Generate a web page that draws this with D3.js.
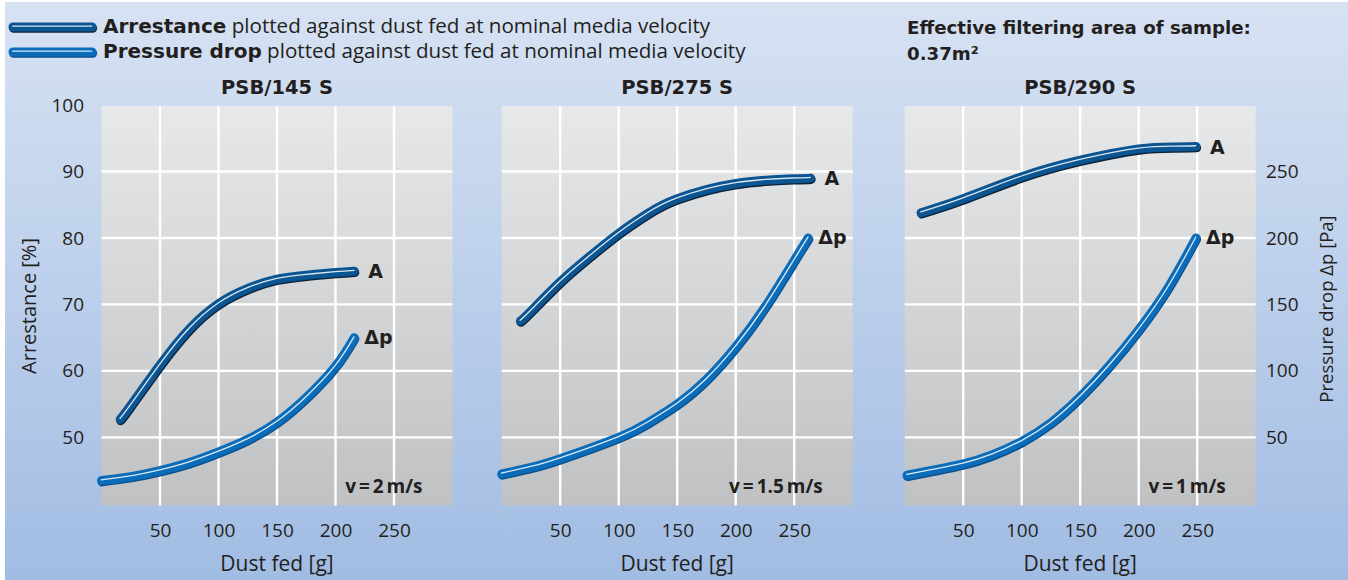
<!DOCTYPE html>
<html><head><meta charset="utf-8">
<script src="https://cdn.jsdelivr.net/npm/d3@7"></script>
<style>html,body{margin:0;padding:0;background:#fff;}svg{display:block;}text{font-family:"Open Sans",sans-serif;fill:#231f20;}.b{font-family:"DejaVu Sans",sans-serif;font-weight:bold;}</style>
</head><body><svg id="c" width="1348" height="580"></svg>
<script>
// ---- data ----
const panelTitles = ["PSB/145 S", "PSB/275 S", "PSB/290 S"];
const velocities = ["v = 2 m/s", "v = 1.5 m/s", "v = 1 m/s"];
const dustTicks = [50, 100, 150, 200, 250];
const arrestTicks = [50, 60, 70, 80, 90, 100];
const pressureTicks = [50, 100, 150, 200, 250];

// Arrestance [%] vs dust fed [g]
const arrDust1 = [16, 25, 50, 75, 100, 125, 150, 175, 200, 216];
const arrVal1  = [52.7, 54.8, 60.9, 66.3, 70.1, 72.4, 73.8, 74.4, 74.8, 75.0];
const arrDust2 = [16, 25, 50, 75, 100, 125, 150, 200, 250, 264];
const arrVal2  = [67.5, 69.0, 73.4, 77.2, 80.7, 83.7, 85.9, 88.2, 88.9, 89.0];
const arrDust3 = [14, 50, 100, 150, 200, 230, 249];
const arrVal3  = [83.8, 85.9, 89.2, 91.7, 93.4, 93.7, 93.75];

// Pressure drop [Pa] vs dust fed [g]
const dpDust1 = [0, 25, 50, 75, 100, 125, 150, 175, 200, 216];
const dpVal1  = [17.5, 20.5, 25, 31, 39, 48.5, 61.5, 80, 103.5, 125];
const dpDust2 = [0, 25, 50, 100, 125, 150, 175, 200, 225, 250, 262];
const dpVal2  = [22.5, 27.5, 34, 50, 61, 75, 93.5, 118, 148, 183, 200];
const dpDust3 = [2, 25, 50, 75, 100, 125, 150, 175, 200, 225, 249];
const dpVal3  = [21.5, 25.5, 30, 37, 47, 61, 80.5, 104, 131, 162.5, 200];

const arrDust = [arrDust1, arrDust2, arrDust3], arrVal = [arrVal1, arrVal2, arrVal3];
const dpDust = [dpDust1, dpDust2, dpDust3], dpVal = [dpVal1, dpVal2, dpVal3];

// ---- layout ----
const W = 1348, H = 580;
const panelX = [101.5, 501.7, 904.7], panelW = 351;
const plotTop = 106, plotBottom = 505.5;
const svg = d3.select("#c");
const defs = svg.append("defs");
const bg = defs.append("linearGradient").attr("id","bg").attr("x1",0).attr("y1",0).attr("x2",0).attr("y2",1);
bg.append("stop").attr("offset","0%").attr("stop-color","#d7e2f3");
bg.append("stop").attr("offset","100%").attr("stop-color","#a1bce3");
const pg = defs.append("linearGradient").attr("id","pg").attr("x1",0).attr("y1",0).attr("x2",0).attr("y2",1);
pg.append("stop").attr("offset","0%").attr("stop-color","#e7e8e9");
pg.append("stop").attr("offset","100%").attr("stop-color","#c0c1c3");

svg.append("rect").attr("x",5).attr("y",2).attr("width",W-5).attr("height",H-2).attr("fill","url(#bg)");

const y = d3.scaleLinear().domain([39.75, 100]).range([plotBottom, 105]);
const yP = d3.scaleLinear().domain([-1.25, 300]).range([plotBottom, 105]);

function tube(g, pts, kind){
  const main = kind === "A" ? "#0b5592" : "#0b6dba";
  const shadow = kind === "A" ? "#0c2238" : "#0a4f8c";
  g.append("path").attr("d", pts).attr("fill","none").attr("stroke",shadow).attr("stroke-width",9)
    .attr("stroke-linecap","round").attr("stroke-linejoin","round").attr("transform","translate(0.6,1.3)");
  g.append("path").attr("d", pts).attr("fill","none").attr("stroke",main).attr("stroke-width",9)
    .attr("stroke-linecap","round").attr("stroke-linejoin","round");
  g.append("path").attr("d", pts).attr("fill","none").attr("stroke","#ffffff").attr("stroke-opacity",0.85).attr("stroke-width",1.3)
    .attr("stroke-linecap","round").attr("transform","translate(-0.3,-0.8)");
}

for (let i = 0; i < 3; i++) {
  const x = d3.scaleLinear().domain([0, 300]).range([panelX[i], panelX[i] + panelW]);
  const g = svg.append("g");
  g.append("rect").attr("x", panelX[i]).attr("y", plotTop).attr("width", panelW).attr("height", plotBottom - plotTop).attr("fill","url(#pg)");
  g.selectAll(".vg").data(dustTicks).enter().append("line")
    .attr("x1", d => x(d)).attr("x2", d => x(d)).attr("y1", plotTop).attr("y2", plotBottom)
    .attr("stroke","#fff").attr("stroke-width",2.4);
  g.selectAll(".hg").data(arrestTicks.filter(d => d < 100)).enter().append("line")
    .attr("x1", panelX[i]).attr("x2", panelX[i] + panelW).attr("y1", d => y(d)).attr("y2", d => y(d))
    .attr("stroke","#fff").attr("stroke-width",2.4);
  const xa = g.append("g").attr("transform", `translate(0,${plotBottom})`)
    .call(d3.axisBottom(x).tickValues(dustTicks).tickSize(0).tickPadding(18));
  xa.select(".domain").remove();
  xa.selectAll("text").style("font-size","19px").style("font-family","Open Sans").attr("fill","#231f20");
  g.append("text").attr("x", panelX[i] + panelW / 2).attr("y", 571).attr("text-anchor","middle")
    .style("font-size","21px").text("Dust fed [g]");
  g.append("text").attr("class","b").attr("x", panelX[i] + panelW / 2).attr("y", 94).attr("text-anchor","middle")
    .style("font-size","19.5px").text(panelTitles[i]);
  g.append("text").attr("x", panelX[i] + panelW - 30).attr("y", 493).attr("text-anchor","end")
    .style("font-size","19px").style("font-weight","700").style("word-spacing","-2px").text(velocities[i]);

  const lineA = d3.line().x(d => x(d[0])).y(d => y(d[1])).curve(d3.curveNatural);
  const lineP = d3.line().x(d => x(d[0])).y(d => yP(d[1])).curve(d3.curveNatural);
  const aPts = arrDust[i].map((d, k) => [d, arrVal[i][k]]);
  const pPts = dpDust[i].map((d, k) => [d, dpVal[i][k]]);
  tube(g, lineP(pPts), "P");
  tube(g, lineA(aPts), "A");
  const aEnd = aPts[aPts.length - 1], pEnd = pPts[pPts.length - 1];
  g.append("text").attr("class","b").attr("x", x(aEnd[0]) + 14).attr("y", y(aEnd[1]) + 7)
    .style("font-size","19px").text("A");
  g.append("text").attr("class","b").attr("x", x(pEnd[0]) + 10).attr("y", yP(pEnd[1]) + 6)
    .style("font-size","19px").text("\u0394p");
}

// left axis
const ya = svg.append("g").attr("transform", `translate(84,0)`)
  .call(d3.axisLeft(y).tickValues(arrestTicks).tickSize(0).tickPadding(0));
ya.select(".domain").remove();
ya.selectAll("text").style("font-size","19px").style("font-family","Open Sans").attr("fill","#231f20");
svg.append("text").attr("transform","translate(36,306) rotate(-90)").attr("text-anchor","middle")
  .style("font-size","20px").text("Arrestance [%]");
// right axis
const yr = svg.append("g").attr("transform", `translate(1266,0)`)
  .call(d3.axisRight(yP).tickValues(pressureTicks).tickSize(0).tickPadding(0));
yr.select(".domain").remove();
yr.selectAll("text").style("font-size","19px").style("font-family","Open Sans").attr("fill","#231f20");
svg.append("text").attr("transform","translate(1333,309) rotate(-90)").attr("text-anchor","middle")
  .style("font-size","18.5px").text("Pressure drop \u0394p [Pa]");

// legend
const legendItems = [["Arrestance", "A"], ["Pressure drop", "P"]];
const lg = svg.append("g");
legendItems.forEach((it, k) => {
  const yy = 27 + k * 25;
  tube(lg, `M13,${yy}L92,${yy}`, it[1]);
  const t = lg.append("text").attr("x", 103).attr("y", yy + 6).style("font-size","20.6px");
  t.append("tspan").attr("class","b").style("font-size","20px").text(it[0]);
  t.append("tspan").text(" plotted against dust fed at nominal media velocity");
});

// area note
svg.append("text").attr("class","b").attr("x", 907).attr("y", 34).style("font-size","18.2px")
  .text("Effective filtering area of sample:");
svg.append("text").attr("class","b").attr("x", 907).attr("y", 60).style("font-size","18.2px")
  .text("0.37m\u00b2");
</script></body></html>
